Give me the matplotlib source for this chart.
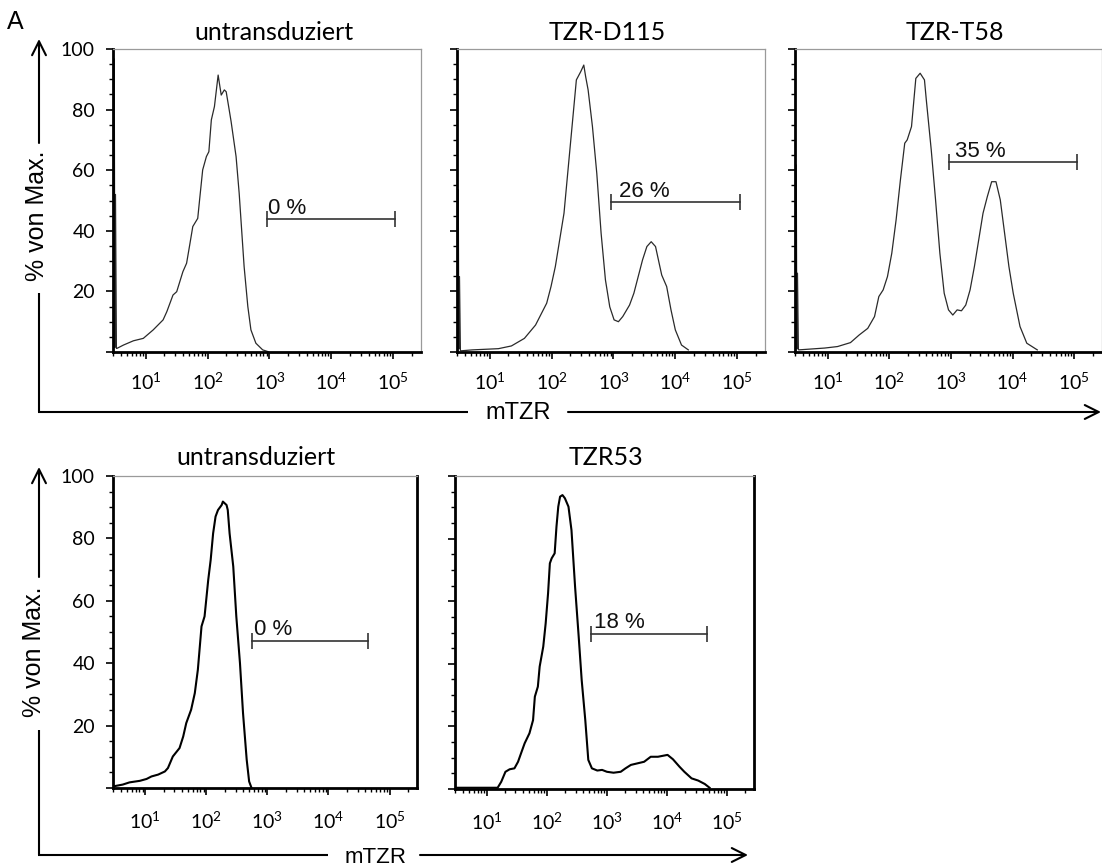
import matplotlib
matplotlib.use("Agg")
import matplotlib.pyplot as plt
from matplotlib.ticker import FixedLocator, LogLocator, NullFormatter, MultipleLocator

W, H = 1102, 866
SANS = "Lato"
ARIAL = "Liberation Sans"

plt.rcParams["mathtext.fontset"] = "custom"
plt.rcParams["mathtext.rm"] = SANS
plt.rcParams["mathtext.it"] = SANS + ":italic"
plt.rcParams["mathtext.bf"] = SANS + ":bold"

# x axis in log10 units (display range of the cytometer plot)
LOG_MIN, LOG_MAX = 0.47, 5.45
DECADES = [1, 2, 3, 4, 5]
X_TICK_LABELS = [r"$\mathregular{10^{%d}}$" % d for d in DECADES]
Y_TICKS = [0, 20, 40, 60, 80, 100]
Y_TICK_LABELS = ["", "20", "40", "60", "80", "100"]

TITLES = ["untransduziert", "TZR-D115", "TZR-T58", "untransduziert", "TZR53"]
GATE_LABELS = ["0 %", "26 %", "35 %", "0 %", "18 %"]

# histograms: log10(mTZR) vs % of max
untr1_lx = [0.49, 0.50, 0.51, 0.525, 0.534, 0.64, 0.80, 0.96, 1.12, 1.28, 1.34, 1.44, 1.50,
            1.60, 1.66, 1.71, 1.76, 1.84, 1.87, 1.92, 1.98, 2.02, 2.06, 2.11, 2.17, 2.19,
            2.22, 2.27, 2.30, 2.34, 2.38, 2.46, 2.51, 2.59, 2.65, 2.70, 2.78, 2.89, 2.98]
untr1_y = [96.7, 1.5, 52.0, 1.2, 1.2, 2.3, 3.7, 4.5, 7.3, 10.6, 13.3, 18.8, 19.9,
           26.5, 29.3, 35.3, 41.4, 44.1, 50.2, 60.1, 64.5, 66.1, 76.6, 81.0, 91.4, 88.7,
           84.8, 86.5, 85.9, 81.0, 76.0, 64.5, 52.4, 28.2, 15.0, 7.3, 2.9, 0.7, 0.1]

d115_lx = [0.49, 0.50, 0.51, 0.525, 0.54, 0.72, 0.93, 1.14, 1.35, 1.56, 1.74, 1.92, 1.99,
           2.06, 2.13, 2.20, 2.27, 2.34, 2.40, 2.47, 2.52, 2.55, 2.59, 2.66, 2.73, 2.80,
           2.87, 2.94, 3.01, 3.08, 3.15, 3.26, 3.33, 3.40, 3.47, 3.54, 3.61, 3.68, 3.75,
           3.78, 3.86, 3.93, 4.00, 4.10, 4.21]
d115_y = [53.5, 1.0, 24.9, 0.5, 0.4, 0.7, 0.9, 1.1, 2.0, 4.5, 8.9, 16.1, 21.6,
          28.2, 37.0, 45.8, 61.2, 76.6, 89.8, 92.5, 94.7, 90.9, 86.5, 74.4, 59.0, 39.2,
          23.8, 14.9, 10.6, 10.0, 11.7, 15.5, 19.4, 24.9, 30.4, 34.8, 36.4, 34.8, 28.2,
          25.4, 21.6, 13.9, 7.3, 2.3, 0.7]

t58_lx = [0.49, 0.50, 0.51, 0.525, 0.53, 0.67, 0.95, 1.16, 1.37, 1.51, 1.65, 1.76, 1.83,
          1.90, 1.97, 2.04, 2.11, 2.18, 2.25, 2.29, 2.36, 2.43, 2.50, 2.57, 2.60, 2.68,
          2.75, 2.82, 2.89, 2.96, 3.03, 3.10, 3.17, 3.24, 3.31, 3.38, 3.45, 3.52, 3.59,
          3.66, 3.73, 3.80, 3.87, 3.94, 4.01, 4.12, 4.23, 4.40]
t58_y = [61.7, 1.0, 26.0, 0.8, 0.7, 0.9, 1.3, 1.8, 3.1, 5.6, 7.8, 11.7, 18.3,
         20.5, 24.9, 32.6, 43.6, 56.8, 68.9, 70.0, 74.4, 90.3, 92.0, 89.8, 83.2, 66.7,
         50.2, 32.6, 19.4, 13.9, 12.2, 13.9, 13.6, 15.5, 20.5, 28.2, 37.0, 45.8, 51.3,
         56.2, 56.2, 50.2, 39.2, 28.2, 19.4, 8.4, 2.9, 0.7]

untr2_lx = [0.47, 0.63, 0.74, 0.91, 1.02, 1.10, 1.21, 1.32, 1.37, 1.45, 1.56, 1.62, 1.67,
            1.75, 1.81, 1.86, 1.92, 1.97, 2.03, 2.07, 2.11, 2.15, 2.19, 2.25, 2.27, 2.33,
            2.35, 2.38, 2.44, 2.49, 2.55, 2.60, 2.66, 2.70, 2.74]
untr2_y = [0.5, 1.1, 1.8, 2.3, 2.9, 3.7, 4.3, 5.3, 6.4, 10.1, 12.8, 16.5, 20.8,
           25.1, 30.4, 37.9, 51.8, 55.0, 66.7, 73.1, 81.6, 87.0, 89.1, 90.7, 91.8, 90.7,
           89.1, 81.6, 71.0, 55.0, 40.0, 24.0, 9.1, 2.1, 0.0]

tzr53_lx = [0.47, 1.18, 1.24, 1.31, 1.38, 1.46, 1.52, 1.57, 1.63, 1.71, 1.77, 1.80, 1.85,
            1.88, 1.94, 1.98, 2.02, 2.05, 2.08, 2.13, 2.16, 2.19, 2.22, 2.26, 2.30, 2.36,
            2.41, 2.47, 2.53, 2.58, 2.64, 2.69, 2.75, 2.84, 2.92, 3.00, 3.11, 3.23, 3.31,
            3.40, 3.51, 3.62, 3.73, 3.85, 4.01, 4.10, 4.21, 4.29, 4.41, 4.52, 4.63, 4.71]
tzr53_y = [0.4, 0.4, 2.3, 5.5, 6.3, 6.6, 8.7, 11.4, 14.6, 17.8, 22.0, 29.5, 32.7,
           39.1, 45.5, 52.9, 62.5, 72.1, 73.7, 75.3, 83.8, 90.2, 93.4, 93.9, 92.9, 90.2,
           82.7, 64.6, 48.7, 34.8, 22.0, 9.3, 6.6, 5.9, 6.1, 5.5, 5.2, 5.5, 6.6,
           7.7, 8.2, 8.7, 10.3, 10.3, 10.9, 9.5, 7.1, 5.5, 3.4, 2.7, 1.6, 0.4]

# gates: (log10 start, log10 end, level %)
gate_start = [2.96, 2.96, 2.96, 2.74, 2.74]
gate_end = [5.03, 5.04, 5.05, 4.65, 4.66]
gate_level = [43.8, 49.4, 62.6, 47.2, 49.6]

curves_lx = [untr1_lx, d115_lx, t58_lx, untr2_lx, tzr53_lx]
curves_y = [untr1_y, d115_y, t58_y, untr2_y, tzr53_y]

# panel boxes in pixels: left, right, top, bottom
BOXES = [(113, 421, 49, 352), (457, 765, 49, 352), (795, 1102, 49, 352),
         (113, 417, 476, 788), (455, 754, 476, 789)]
TITLE_X = [0.523, 0.487, 0.521, 0.47, 0.505]
LABEL_DX = [1, 6, 5, 2, 2]

fig = plt.figure(figsize=(W / 100, H / 100), dpi=100)

for i in range(5):
    l, r, t, b = BOXES[i]
    bottom_row = i >= 3
    ax = fig.add_axes([l / W, 1 - b / H, (r - l) / W, (b - t) / H])
    ax.set_xscale("log")
    xs = [10 ** v for v in curves_lx[i]]
    if bottom_row:
        ax.plot(xs, curves_y[i], color="black", lw=1.5)
    else:
        ax.plot(xs, curves_y[i], color="#2a2a2a", lw=0.9)
    ax.set_xlim(10 ** LOG_MIN, 10 ** LOG_MAX)
    ax.set_ylim(0, 100)

    # gate bar with end caps
    ax.plot([10 ** gate_start[i], 10 ** gate_end[i]], [gate_level[i]] * 2,
            color="#333333", lw=1.2, marker="|", markersize=11, mew=1.2)
    ax.annotate(GATE_LABELS[i], (10 ** gate_start[i], gate_level[i]),
                xytext=(LABEL_DX[i], 4), textcoords="offset points", ha="left",
                va="baseline", fontsize=16, family=ARIAL, color="#111111")

    for side in ["left", "bottom"]:
        ax.spines[side].set_linewidth(2.0)
        ax.spines[side].set_color("black")
    ax.spines["top"].set_linewidth(0.9)
    ax.spines["top"].set_color("#9a9a9a")
    if bottom_row:
        ax.spines["right"].set_linewidth(2.0)
        ax.spines["right"].set_color("black")
    else:
        ax.spines["right"].set_linewidth(0.9)
        ax.spines["right"].set_color("#9a9a9a")

    ax.xaxis.set_major_locator(FixedLocator([10 ** d for d in DECADES]))
    ax.set_xticklabels(X_TICK_LABELS)
    ax.xaxis.set_minor_locator(LogLocator(base=10, subs=range(2, 10), numticks=20))
    ax.xaxis.set_minor_formatter(NullFormatter())
    ax.yaxis.set_major_locator(FixedLocator(Y_TICKS))
    ax.yaxis.set_minor_locator(MultipleLocator(5))
    ax.set_yticklabels(Y_TICK_LABELS if i in (0, 3) else [""] * len(Y_TICKS))
    ax.tick_params(which="major", direction="out", length=5, width=1.2, color="black")
    ax.tick_params(which="minor", direction="out", length=3, width=1.0, color="black")
    ax.tick_params(axis="x", which="major", pad=9 if not bottom_row else 11)
    ax.tick_params(axis="y", which="major", pad=8)
    for lab in ax.get_xticklabels() + ax.get_yticklabels():
        lab.set_fontfamily(SANS)
        lab.set_fontsize(14)

    gap = 9.5 if not bottom_row else 11
    ax.text(TITLE_X[i], 1 + gap / (b - t), TITLES[i], transform=ax.transAxes,
            ha="center", va="baseline", fontsize=18, family=SANS)

# overlay for the axis arrows and labels, pixel coordinates
ov = fig.add_axes([0, 0, 1, 1])
ov.set_xlim(0, W)
ov.set_ylim(H, 0)
ov.axis("off")

arrow = dict(arrowstyle="->", lw=1.5, color="black", mutation_scale=25,
             shrinkA=0, shrinkB=0)
lk = dict(color="black", lw=1.5, solid_capstyle="butt")

# top row
ov.plot([39, 39], [412, 293], **lk)
ov.annotate("", xy=(39, 39), xytext=(39, 143), arrowprops=arrow)
ov.plot([38.3, 468], [412, 412], **lk)
ov.annotate("", xy=(1101, 412), xytext=(568, 412), arrowprops=arrow)
ov.text(37, 216, "% von Max.", rotation=90, ha="center", va="center",
        fontsize=18, family=ARIAL)
ov.text(518, 413, "mTZR", ha="center", va="center", fontsize=17, family=ARIAL)

# bottom row
ov.plot([39, 39], [855, 730], **lk)
ov.annotate("", xy=(39, 467), xytext=(39, 577), arrowprops=arrow)
ov.plot([38.3, 328], [855, 855], **lk)
ov.annotate("", xy=(748, 855), xytext=(420, 855), arrowprops=arrow)
ov.text(34, 652, "% von Max.", rotation=90, ha="center", va="center",
        fontsize=18, family=ARIAL)
ov.text(376, 863, "mTZR", ha="center", va="baseline", fontsize=16, family=ARIAL)

ov.text(7, 29, "A", ha="left", va="baseline", fontsize=18, family=ARIAL)

fig.savefig("out.png", dpi=100)
